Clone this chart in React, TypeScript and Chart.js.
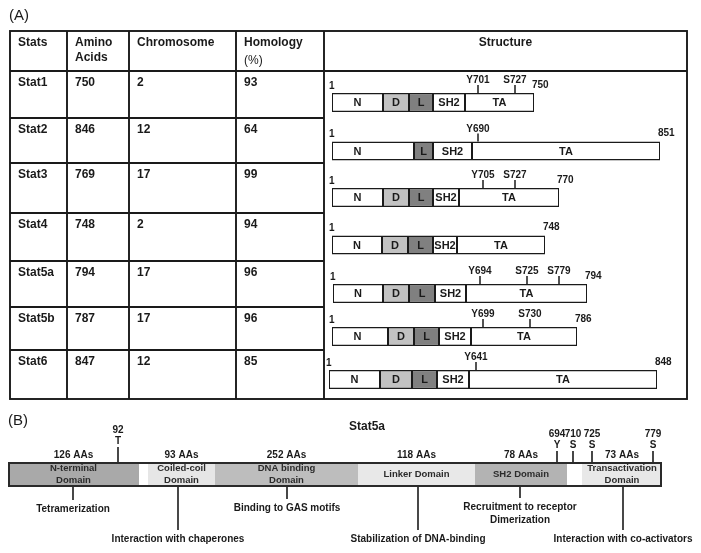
import { useEffect, useRef } from 'react';
import { Chart, registerables } from 'chart.js';

Chart.register(...registerables);

const W = 701;
const H = 553;
const FONT = '"Liberation Sans", Arial, Helvetica, sans-serif';

// ---------------- Panel A: table data ----------------
const stats = ['Stat1', 'Stat2', 'Stat3', 'Stat4', 'Stat5a', 'Stat5b', 'Stat6'];
const aminoAcids = ['750', '846', '769', '748', '794', '787', '847'];
const chromosome = ['2', '12', '17', '2', '17', '17', '12'];
const homology = ['93', '64', '99', '94', '96', '96', '85'];
const headerLabels = [['Stats'], ['Amino', 'Acids'], ['Chromosome'], ['Homology', '(%)']];
const structureHeader = 'Structure';

// ---------------- Panel A: domain structures (schematic units) ----------------
const structStart = [332, 332, 332, 332, 333, 332, 329];
const nEnd = [383, 414, 383, 382, 383, 388, 380];
const dEnd = [409, null, 409, 408, 409, 414, 412];
const lEnd = [433, 433, 433, 433, 435, 439, 437];
const sh2End = [465, 472, 459, 457, 466, 471, 469];
const taEnd = [534, 660, 559, 545, 587, 577, 657];
const startLabel = '1';
const endLabels = ['750', '851', '770', '748', '794', '786', '848'];
const siteNames = [
  ['Y701', 'S727'],
  ['Y690'],
  ['Y705', 'S727'],
  [],
  ['Y694', 'S725', 'S779'],
  ['Y699', 'S730'],
  ['Y641'],
];
const sitePos = [[478, 515], [478], [483, 515], [], [480, 527, 559], [483, 530], [476]];
const domainLetters = ['N', 'D', 'L', 'SH2', 'TA'];

// ---------------- Panel B: Stat5a ----------------
const bTitle = 'Stat5a';
const bDomainNames = [
  ['N-terminal', 'Domain'],
  [],
  ['Coiled-coil', 'Domain'],
  ['DNA binding', 'Domain'],
  ['Linker Domain'],
  ['SH2 Domain'],
  [],
  ['Transactivation', 'Domain'],
];
const bStart = [8, 139, 148, 215, 358, 475, 567, 582];
const bEnd = [139, 148, 215, 358, 475, 567, 582, 662];
const bLengths = ['126 AAs', '', '93 AAs', '252 AAs', '118 AAs', '78 AAs', '', '73 AAs'];
const bFunctions = [
  ['Tetramerization'],
  [],
  ['Interaction with chaperones'],
  ['Binding to GAS motifs'],
  ['Stabilization of DNA-binding'],
  ['Recruitment to receptor', 'Dimerization'],
  [],
  ['Interaction with co-activators'],
];
const bFunctionAt = [73, 0, 178, 287, 418, 520, 0, 623];
const bSiteNumbers = ['92', '694', '710', '725', '779'];
const bSiteResidues = ['T', 'Y', 'S', 'S', 'S'];
const bSitePos = [118, 557, 573, 592, 653];

// ---------------- Layout & style (not data) ----------------
const colX = [10, 67, 129, 236, 324];
const tableRight = 687;
const tableTop = 31;
const rowLines = [71, 118, 163, 213, 261, 307, 350, 399];
const rowBarY = [102.5, 151, 197.5, 245, 293.5, 336.5, 379.5];
const STRUCT_BAR = 19;
const B_BAR_Y = 474.5;
const B_BAR = 25;
const bFunctionDrop = [13, 0, 43, 12, 43, 11, 0, 43];
const bSiteLift = [4, 0, 0, 0, 0];
const domainColors = ['#ffffff', '#c2c2c2', '#808080', '#ffffff', '#ffffff'];
const bColors = ['#a9a9a9', '#ffffff', '#e6e6e6', '#bdbdbd', '#e8e8e8', '#b3b3b3', '#ffffff', '#e8e8e8'];
const INK = '#1a1a1a';

function structSegments(k: number) {
  const out: { x: number[]; y: number }[] = [];
  for (let r = 0; r < stats.length; r++) {
    const dS = nEnd[r];
    const lS = dEnd[r] ?? nEnd[r];
    const bounds = [
      [structStart[r], nEnd[r]],
      dEnd[r] == null ? null : [dS, dEnd[r] as number],
      [lS, lEnd[r]],
      [lEnd[r], sh2End[r]],
      [sh2End[r], taEnd[r]],
    ][k];
    if (bounds) out.push({ x: bounds as number[], y: rowBarY[r] });
  }
  return out;
}

const figurePlugin = {
  id: 'figure',
  beforeDraw(chart: any) {
    const ctx = chart.ctx;
    ctx.save();
    ctx.fillStyle = '#ffffff';
    ctx.fillRect(0, 0, chart.width, chart.height);
    ctx.restore();
  },
  afterDatasetsDraw(chart: any) {
    const ctx: CanvasRenderingContext2D = chart.ctx;
    const xs = chart.scales.x;
    const ys = chart.scales.y;
    const px = (v: number) => xs.getPixelForValue(v);
    const py = (v: number) => ys.getPixelForValue(v);

    const text = (s: string, x: number, y: number, size: number, bold = true, align: CanvasTextAlign = 'left', color = INK) => {
      ctx.font = `${bold ? 'bold ' : ''}${size}px ${FONT}`;
      ctx.fillStyle = color;
      ctx.textAlign = align;
      ctx.textBaseline = 'middle';
      ctx.fillText(s, x, y);
    };
    const line = (x1: number, y1: number, x2: number, y2: number, w = 1.6) => {
      ctx.beginPath();
      ctx.lineWidth = w;
      ctx.strokeStyle = INK;
      ctx.moveTo(x1, y1);
      ctx.lineTo(x2, y2);
      ctx.stroke();
    };

    ctx.save();
    // ---- panel labels
    text('(A)', px(9), py(16), 15, false);
    text('(B)', px(8), py(421), 15, false);

    // ---- table grid
    const tb = rowLines[rowLines.length - 1];
    ctx.lineWidth = 1.9;
    ctx.strokeStyle = INK;
    ctx.strokeRect(px(colX[0]), py(tableTop), px(tableRight) - px(colX[0]), py(tb) - py(tableTop));
    for (let i = 1; i < colX.length; i++) line(px(colX[i]), py(tableTop), px(colX[i]), py(tb), 1.9);
    line(px(colX[0]), py(rowLines[0]), px(tableRight), py(rowLines[0]), 1.9);
    for (let i = 1; i < rowLines.length - 1; i++) line(px(colX[0]), py(rowLines[i]), px(colX[4]), py(rowLines[i]), 1.9);

    // ---- header text
    headerLabels.forEach((lines, c) => {
      lines.forEach((s, j) => {
        const regular = s === '(%)';
        text(s, px(colX[c] + 8), py(42.5 + j * (regular ? 18.5 : 15.5)), 12, !regular);
      });
    });
    text(structureHeader, px((colX[4] + tableRight) / 2), py(43), 12, true, 'center');

    // ---- table rows
    const cols = [stats, aminoAcids, chromosome, homology];
    for (let r = 0; r < stats.length; r++) {
      cols.forEach((arr, c) => text(arr[r], px(colX[c] + 8), py(rowLines[r] + 12), 12));
    }

    // ---- structure annotations
    for (let r = 0; r < stats.length; r++) {
      const top = rowBarY[r] - STRUCT_BAR / 2;
      const segs: (number[] | null)[] = [
        [structStart[r], Math.min(nEnd[r], structStart[r] + 51)],
        dEnd[r] == null ? null : [nEnd[r], dEnd[r] as number],
        [dEnd[r] ?? nEnd[r], lEnd[r]],
        [lEnd[r], sh2End[r]],
        [sh2End[r], taEnd[r]],
      ];
      segs.forEach((sg, k) => {
        if (!sg) return;
        text(domainLetters[k], px((sg[0] + sg[1]) / 2), py(rowBarY[r] + 0.5), 11, true, 'center');
      });
      text(startLabel, px(structStart[r] - 3), py(top - 7), 10, true, 'left');
      text(endLabels[r], px(taEnd[r] - 2), py(top - 8), 10, true, 'left');
      siteNames[r].forEach((s, i) => {
        const x = sitePos[r][i];
        line(px(x), py(top - 8), px(x), py(top), 1.5);
        text(s, px(x), py(top - 12.5), 10, true, 'center');
      });
    }

    // ---- panel B
    text(bTitle, px(367), py(427), 12, true, 'center');
    const bTop = B_BAR_Y - B_BAR / 2;
    const bBot = B_BAR_Y + B_BAR / 2;
    bDomainNames.forEach((names, k) => {
      const cx = (bStart[k] + bEnd[k]) / 2;
      if (names.length === 2) {
        text(names[0], px(cx), py(468.5), 9.5, true, 'center', '#2b2b2b');
        text(names[1], px(cx), py(480.5), 9.5, true, 'center', '#2b2b2b');
      } else if (names.length === 1) {
        text(names[0], px(cx), py(474.5), 9.5, true, 'center', '#2b2b2b');
      }
      if (bLengths[k]) text(bLengths[k], px(cx), py(455), 10, true, 'center');
      const fn = bFunctions[k];
      if (fn.length) {
        const fx = bFunctionAt[k];
        const yEnd = bBot + bFunctionDrop[k];
        line(px(fx), py(bBot), px(fx), py(yEnd), 1.6);
        fn.forEach((s, j) => text(s, px(fx), py(yEnd + 9 + j * 13), 10, true, 'center'));
      }
    });
    bSitePos.forEach((x, i) => {
      const lift = bSiteLift[i];
      line(px(x), py(bTop - 11 - lift), px(x), py(bTop), 1.6);
      text(bSiteResidues[i], px(x), py(bTop - 17 - lift), 10, true, 'center');
      text(bSiteNumbers[i], px(x), py(bTop - 28 - lift), 10, true, 'center');
    });
    ctx.restore();
  },
};

export default function App() {
  const ref = useRef<HTMLCanvasElement | null>(null);

  useEffect(() => {
    document.body.style.margin = '0';
    const canvas = ref.current;
    if (!canvas) return;

    const structDatasets = domainLetters.map((name, k) => ({
      label: name,
      data: structSegments(k),
      backgroundColor: domainColors[k],
      borderColor: INK,
      borderWidth: { top: 1.6, bottom: 1.6, left: 1, right: 1 },
      borderSkipped: false,
      barThickness: STRUCT_BAR,
      grouped: false,
      inflateAmount: 0,
    }));

    const bOutline = {
      label: 'Stat5a outline',
      data: [{ x: [bStart[0], bEnd[bEnd.length - 1]], y: B_BAR_Y }],
      backgroundColor: 'rgba(0,0,0,0)',
      borderColor: '#2a2a2a',
      borderWidth: 2,
      borderSkipped: false,
      barThickness: B_BAR,
      grouped: false,
      inflateAmount: 0,
    };
    const bSegments = {
      label: 'Stat5a domains',
      data: bStart.map((s, k) => ({ x: [s, bEnd[k]], y: B_BAR_Y })),
      backgroundColor: bColors,
      borderWidth: 0,
      barThickness: B_BAR,
      grouped: false,
      inflateAmount: 0,
    };

    const chart = new Chart(canvas, {
      type: 'bar',
      data: { datasets: [bOutline, bSegments, ...structDatasets] as any },
      options: {
        indexAxis: 'y',
        animation: false,
        responsive: false,
        devicePixelRatio: 1,
        events: [],
        layout: { padding: 0 },
        plugins: { legend: { display: false }, tooltip: { enabled: false }, title: { display: false } },
        scales: {
          x: { type: 'linear', min: 0, max: W, display: false, offset: false, grace: 0 },
          y: { type: 'linear', min: 0, max: H, reverse: true, display: false, offset: false, grace: 0 },
        },
      } as any,
      plugins: [figurePlugin],
    });
    return () => chart.destroy();
  }, []);

  return <canvas ref={ref} width={W} height={H} style={{ display: 'block' }} />;
}
